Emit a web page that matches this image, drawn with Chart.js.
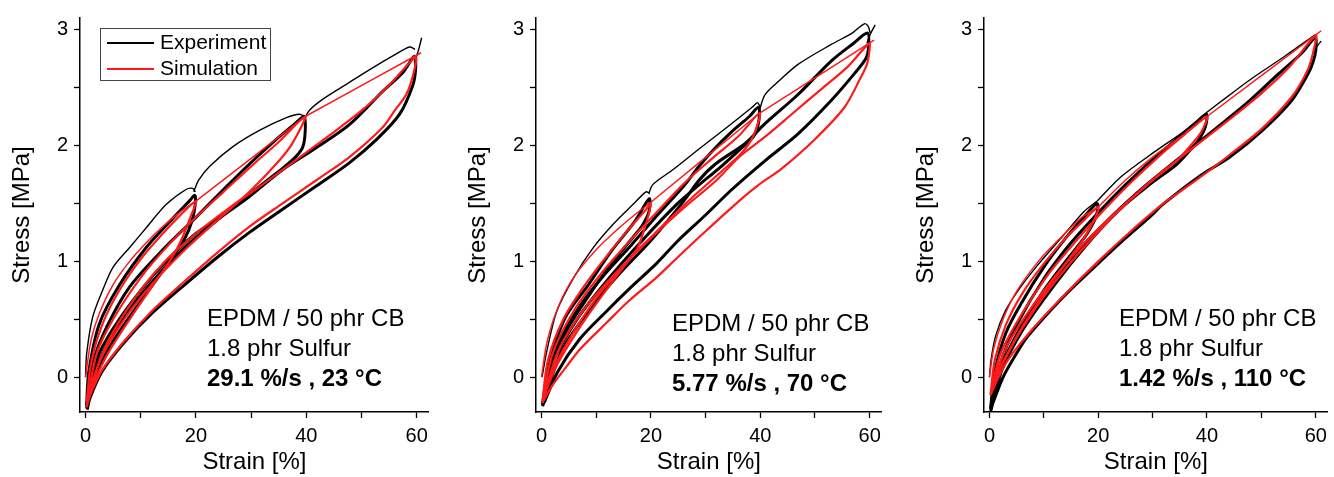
<!DOCTYPE html>
<html>
<head>
<meta charset="utf-8">
<script src="https://cdn.jsdelivr.net/npm/chart.js@4"></script>
<style>
  html, body { margin: 0; padding: 0; background: #fff; overflow: hidden; }
  body { width: 1334px; height: 477px; position: relative; font-family: "Liberation Sans", Arial, sans-serif; }
  .panel { position: absolute; top: 0; height: 477px; }
  .note { position: absolute; font-size: 24px; line-height: 30px; color: #000; white-space: nowrap; }
  .legend { position: absolute; left: 100px; top: 28px; width: 169px; height: 51px; border: 1px solid #444; }
  .legend .key { position: absolute; left: 6px; width: 47px; height: 2px; }
  .legend .lbl { position: absolute; left: 59px; font-size: 21px; line-height: 26px; color: #000; }
</style>
</head>
<body>
<div class="panel" style="left:0px;width:434px"><canvas id="c23" width="434" height="477"></canvas></div>
<div class="panel" style="left:456px;width:431px"><canvas id="c70" width="431" height="477"></canvas></div>
<div class="panel" style="left:904px;width:429px"><canvas id="c110" width="429" height="477"></canvas></div>

<div class="legend">
  <div class="key" style="top:13px;background:#000"></div>
  <div class="lbl" style="top:0px">Experiment</div>
  <div class="key" style="top:39px;background:#ff1a1a"></div>
  <div class="lbl" style="top:26px">Simulation</div>
</div>

<div class="note" style="left:207px;top:303px">EPDM / 50 phr CB<br>1.8 phr Sulfur<br><b>29.1 %/s , 23 °C</b></div>
<div class="note" style="left:672px;top:308px">EPDM / 50 phr CB<br>1.8 phr Sulfur<br><b>5.77 %/s , 70 °C</b></div>
<div class="note" style="left:1119px;top:303px">EPDM / 50 phr CB<br>1.8 phr Sulfur<br><b>1.42 %/s , 110 °C</b></div>

<script>
// [strain %, stress MPa]; null = break between first-loading segments

// 29.1 %/s , 23 °C
const p23ExpEnv = [[0,0],[0.2,0.2],[1.3,0.52],[3.1,0.75],[5,0.95],[8,1.12],[11,1.29],[14.6,1.49],[18.2,1.62],[19.4,1.63],[19.9,1.6], null,
  [19.6,1.6],[20.5,1.7],[22.5,1.82],[26.7,1.99],[31.5,2.13],[36.4,2.24],[38.8,2.27],[39.7,2.25], null,
  [39.6,2.22],[40.5,2.3],[43,2.4],[47.3,2.53],[52,2.67],[56.3,2.79],[58.7,2.85],[59.7,2.83], null,
  [59.6,2.72],[60.3,2.82],[60.9,2.93]];
const p23ExpC20 = [[0.2,-0.24],[0.6,0.05],[2.5,0.46],[6.2,0.8],[11,1.12],[15.8,1.37],[18.8,1.52],[19.8,1.57],[19.9,1.5],[19.3,1.35],[18,1.2],[15.2,1.0],[11,0.72],[6.5,0.42],[3,0.15],[0.8,-0.12],[0.2,-0.24]];
const p23ExpC40 = [[0.2,-0.25],[1.5,0.15],[4,0.45],[8,0.78],[14,1.1],[20,1.38],[25,1.62],[29.7,1.84],[34.5,2.05],[38,2.19],[39.6,2.25],[39.8,2.12],[39.3,1.98],[37.6,1.88],[35.1,1.78],[29.7,1.58],[24,1.36],[18,1.12],[12,0.82],[7,0.52],[3,0.2],[0.8,-0.1],[0.2,-0.25]];
const p23ExpC60 = [[0.2,-0.27],[2,0.15],[5,0.42],[10,0.75],[15,1.02],[20,1.24],[25,1.4],[29.7,1.56],[35.7,1.79],[41.8,1.98],[47.8,2.18],[53.9,2.47],[57.5,2.63],[59.6,2.77],[59.8,2.66],[59.3,2.52],[56.9,2.27],[52.7,2.05],[47.8,1.85],[41.8,1.65],[35.7,1.45],[29.7,1.25],[24,1.04],[18,0.8],[12,0.55],[7,0.3],[3,0.05],[0.8,-0.18],[0.3,-0.28]];
const p23SimEnv = [[0,0],[1,0.32],[2.5,0.55],[5,0.8],[8,1.0],[11,1.16],[14,1.3],[17,1.42],[20,1.52], null, [20,1.52],[39.8,2.25], null, [39.8,2.25],[60.8,2.8]];
const p23SimC20 = [[0.2,-0.22],[1,0.12],[3,0.45],[6,0.74],[10,1.02],[14,1.24],[17,1.39],[20,1.52],[19,1.38],[17.5,1.2],[15.5,1.02],[12,0.78],[8,0.5],[4,0.2],[1,-0.1],[0.2,-0.22]];
const p23SimC40 = [[0.2,-0.24],[2,0.2],[5,0.5],[10,0.86],[15,1.14],[20,1.38],[25,1.6],[30,1.82],[35,2.03],[39.8,2.25],[37.5,2.02],[35.1,1.87],[29.7,1.6],[24,1.36],[18,1.1],[12,0.8],[7,0.5],[3,0.18],[0.8,-0.1],[0.2,-0.24]];
const p23SimC60 = [[0.2,-0.26],[3,0.2],[8,0.62],[14,0.98],[20,1.24],[26,1.46],[32,1.66],[38,1.87],[44,2.08],[50,2.3],[55,2.52],[59.8,2.76],[59.3,2.6],[58.1,2.44],[56,2.3],[53.9,2.16],[47.8,1.9],[41.8,1.7],[35.7,1.5],[29.7,1.3],[24,1.08],[18,0.83],[12,0.57],[7,0.31],[3,0.06],[0.8,-0.16],[0.2,-0.26]];

// 5.77 %/s , 70 °C
const p70ExpEnv = [[0.1,0],[1,0.23],[2.8,0.57],[5.9,0.86],[9.5,1.12],[13.1,1.32],[16.7,1.49],[19.1,1.6],[19.7,1.59], null,
  [19.6,1.58],[20.3,1.66],[24,1.79],[28.8,1.97],[34.8,2.19],[38.5,2.33],[39.5,2.37],[39.9,2.34], null,
  [39.8,2.3],[40.9,2.44],[43.5,2.56],[46.9,2.7],[52.9,2.87],[56.8,2.97],[59,3.05],[59.7,3.03],[60.1,2.97], null,
  [59.5,2.88],[60.1,2.96],[61,3.04]];
const p70ExpC20 = [[0.2,-0.23],[1.3,0.09],[4.3,0.51],[8.6,0.8],[12.8,1.09],[17,1.34],[19.7,1.54],[19.6,1.42],[18.3,1.3],[17.3,1.24],[12.8,0.98],[8.6,0.7],[4.3,0.38],[1,0],[0.3,-0.2]];
const p70ExpC40 = [[0.2,-0.24],[2.5,0.23],[6.8,0.6],[11.6,0.89],[16.4,1.14],[21.2,1.4],[26,1.65],[28.8,1.82],[31.8,1.98],[34.8,2.12],[38,2.25],[39.7,2.33],[39.7,2.2],[38.8,2.08],[36.6,1.98],[32.4,1.8],[28.8,1.66],[24.9,1.5],[18.8,1.2],[12.8,0.88],[6.8,0.52],[2,0.12],[0.3,-0.22]];
const p70ExpC60 = [[0.2,-0.25],[3.7,0.23],[8.6,0.57],[14,0.88],[20,1.18],[26,1.52],[28.8,1.7],[31.8,1.84],[37.3,2.02],[40.9,2.19],[46.9,2.44],[53,2.73],[57,2.88],[59.6,2.97],[59.8,2.85],[59.3,2.75],[57.2,2.62],[53,2.39],[46.9,2.1],[40.9,1.87],[34.8,1.62],[30,1.4],[25,1.18],[21,0.98],[16,0.76],[11.9,0.57],[7,0.33],[3,0.05],[0.5,-0.22]];
const p70SimEnv = [[0,0],[1,0.3],[3,0.6],[6,0.87],[10,1.1],[14,1.28],[17,1.4],[20,1.51], null, [20,1.51],[39.9,2.28], null, [39.9,2.28],[60.8,2.91]];
const p70SimC20 = [[0.2,-0.2],[1.2,0.15],[4,0.5],[8,0.8],[12,1.05],[16,1.28],[19,1.44],[20,1.5],[19.2,1.34],[17.6,1.12],[15,0.95],[11,0.7],[7,0.43],[3,0.12],[0.8,-0.12],[0.2,-0.2]];
const p70SimC40 = [[0.2,-0.22],[2,0.2],[6,0.58],[11,0.9],[16,1.17],[21,1.42],[26,1.67],[31,1.88],[36,2.08],[39.9,2.28],[38.7,2.08],[36.5,1.93],[33,1.78],[28,1.57],[22,1.3],[16,1.02],[10,0.68],[5,0.32],[1.5,0],[0.2,-0.22]];
const p70SimC60 = [[0.2,-0.22],[3,0.22],[8,0.6],[14,0.92],[20,1.2],[26,1.46],[32,1.7],[36.1,1.9],[41,2.08],[46,2.28],[51,2.48],[56,2.68],[59.9,2.88],[59.9,2.8],[59.5,2.7],[58.4,2.59],[55.4,2.33],[49.9,2.05],[43.9,1.8],[39.7,1.66],[36.1,1.52],[30,1.26],[25,1.04],[21,0.86],[16,0.66],[11.9,0.47],[7,0.24],[4.7,0.1],[2,-0.07],[0.4,-0.2]];

// 1.42 %/s , 110 °C
const p110ExpEnv = [[0,0],[0.3,0.15],[1.1,0.35],[2.9,0.57],[5.3,0.75],[8.9,0.97],[13.7,1.23],[17.4,1.43],[19.8,1.52], null,
  [19.8,1.52],[24.2,1.73],[30.2,1.94],[36.3,2.14],[39.8,2.28], null,
  [39.8,2.28],[44,2.43],[48.3,2.58],[54.3,2.77],[60,2.96], null,
  [59.6,2.8],[60.3,2.86],[61,2.9]];
const p110ExpC20 = [[0.2,-0.27],[1,0.05],[3,0.38],[6,0.65],[10,0.95],[14,1.2],[17.5,1.39],[19.8,1.5],[19.7,1.4],[18.5,1.28],[17.4,1.2],[14,1.0],[10,0.75],[6,0.45],[3,0.18],[0.8,-0.1],[0.2,-0.27]];
const p110ExpC40 = [[0.2,-0.28],[2,0.12],[5,0.45],[10,0.85],[15,1.16],[20,1.42],[25,1.66],[29.1,1.84],[34,2.04],[38,2.2],[39.9,2.27],[39.7,2.16],[38.5,2.05],[36.9,1.96],[34.5,1.84],[29.1,1.65],[24,1.45],[18,1.15],[12,0.8],[6,0.4],[2,0.03],[0.3,-0.26]];
const p110ExpC60 = [[0.2,-0.3],[2.5,0.1],[6,0.42],[11,0.78],[16,1.08],[21,1.32],[25,1.5],[29.1,1.67],[35.1,1.9],[41.2,2.13],[47.2,2.36],[53.2,2.62],[57.5,2.8],[59.9,2.93],[60,2.82],[59.5,2.72],[58.6,2.62],[55.6,2.39],[50.2,2.13],[44.2,1.9],[39.1,1.75],[32.1,1.5],[29.4,1.38],[25,1.2],[20.4,1.0],[15,0.76],[11.3,0.58],[7,0.35],[5.3,0.23],[2.5,0],[0.5,-0.24]];
const p110SimEnv = [[0,0],[0.8,0.25],[2.5,0.5],[5,0.74],[9,1.0],[13,1.2],[17,1.38],[20,1.47], null, [20,1.47],[25,1.7],[30,1.9],[35,2.07],[40,2.25], null, [40,2.25],[61,2.99]];
const p110SimC20 = [[0.2,-0.15],[1,0.15],[3,0.45],[6,0.72],[10,0.98],[14,1.2],[17.5,1.36],[20,1.47],[19.5,1.38],[17.4,1.2],[14,0.98],[10,0.72],[6,0.43],[3,0.17],[0.8,-0.05],[0.2,-0.15]];
const p110SimC40 = [[0.2,-0.15],[2,0.2],[6,0.55],[11,0.9],[16,1.18],[21,1.44],[26,1.68],[31,1.9],[36,2.1],[40,2.25],[39,2.12],[37,2.0],[34.5,1.87],[29,1.66],[23,1.4],[17,1.1],[11,0.76],[6,0.42],[2,0.08],[0.2,-0.15]];
const p110SimC60 = [[0.2,-0.15],[3,0.25],[8,0.62],[14,0.98],[20,1.28],[26,1.54],[32,1.78],[38,2.0],[44,2.22],[50,2.45],[55,2.67],[60,2.95],[59.5,2.8],[58.5,2.65],[55.6,2.42],[50.2,2.15],[44.2,1.92],[38,1.7],[32,1.5],[26,1.26],[20,1.0],[14,0.72],[8,0.42],[3,0.12],[0.2,-0.15]];

const xTicksMajor = [0, 20, 40, 60];
const yTicksMajor = [0, 1, 2, 3];

const FONT = "'Liberation Sans', Arial, sans-serif";
const RED = '#ff1a1a';

function toPoints(arr) {
  const out = [];
  let lastX = 0;
  arr.forEach(p => {
    if (p === null) {
      out.push({ x: lastX, y: null });
    } else {
      lastX = p[0];
      out.push({ x: p[0], y: p[1] });
    }
  });
  return out;
}

function series(arr, color, width, order) {
  return {
    data: toPoints(arr),
    borderColor: color,
    borderWidth: width,
    pointRadius: 0,
    tension: 0.3,
    fill: false,
    spanGaps: false,
    order: order
  };
}

function makeChart(id, exp, sim, padRight) {
  const datasets = [
    series(exp.env, '#000', 1.4, 1),
    series(exp.c20, '#000', 3, 1),
    series(exp.c40, '#000', 3, 1),
    series(exp.c60, '#000', 3, 1),
    series(sim.env, RED, 1.5, 0),
    series(sim.c20, RED, 2.2, 0),
    series(sim.c40, RED, 2.2, 0),
    series(sim.c60, RED, 2.2, 0)
  ];

  new Chart(document.getElementById(id), {
    type: 'line',
    data: { datasets: datasets },
    options: {
      responsive: false,
      animation: false,
      layout: { padding: { top: 15, right: padRight, left: 0, bottom: 0 } },
      plugins: { legend: { display: false }, tooltip: { enabled: false } },
      scales: {
        x: {
          type: 'linear',
          min: -1,
          max: 62.2,
          afterFit: s => { s.height = 65; },
          grid: { drawOnChartArea: false, drawTicks: true, tickLength: 6, color: '#000', tickWidth: 1.3 },
          border: { display: true, color: '#000', width: 1.5 },
          ticks: {
            stepSize: 10,
            includeBounds: false,
            autoSkip: false,
            maxRotation: 0,
            padding: 6,
            color: '#000',
            font: { family: FONT, size: 20 },
            callback: v => xTicksMajor.includes(v) ? String(v) : ''
          },
          title: {
            display: true,
            text: 'Strain [%]',
            color: '#000',
            font: { family: FONT, size: 24 },
            padding: { top: 0, bottom: 0 }
          }
        },
        y: {
          type: 'linear',
          min: -0.3,
          max: 3.1,
          afterFit: s => { s.width = 80; },
          grid: { drawOnChartArea: false, drawTicks: true, tickLength: 6, color: '#000', tickWidth: 1.3 },
          border: { display: true, color: '#000', width: 1.5 },
          ticks: {
            stepSize: 0.5,
            includeBounds: false,
            autoSkip: false,
            padding: 6,
            color: '#000',
            font: { family: FONT, size: 20 },
            callback: v => yTicksMajor.includes(v) ? String(v) : ''
          },
          title: {
            display: true,
            text: 'Stress [MPa]',
            color: '#000',
            font: { family: FONT, size: 24 },
            padding: { top: 8, bottom: 0 }
          }
        }
      }
    }
  });
}

makeChart('c23',
  { env: p23ExpEnv, c20: p23ExpC20, c40: p23ExpC40, c60: p23ExpC60 },
  { env: p23SimEnv, c20: p23SimC20, c40: p23SimC40, c60: p23SimC60 }, 5);
makeChart('c70',
  { env: p70ExpEnv, c20: p70ExpC20, c40: p70ExpC40, c60: p70ExpC60 },
  { env: p70SimEnv, c20: p70SimC20, c40: p70SimC40, c60: p70SimC60 }, 5);
makeChart('c110',
  { env: p110ExpEnv, c20: p110ExpC20, c40: p110ExpC40, c60: p110ExpC60 },
  { env: p110SimEnv, c20: p110SimC20, c40: p110SimC40, c60: p110SimC60 }, 3);
</script>
</body>
</html>
